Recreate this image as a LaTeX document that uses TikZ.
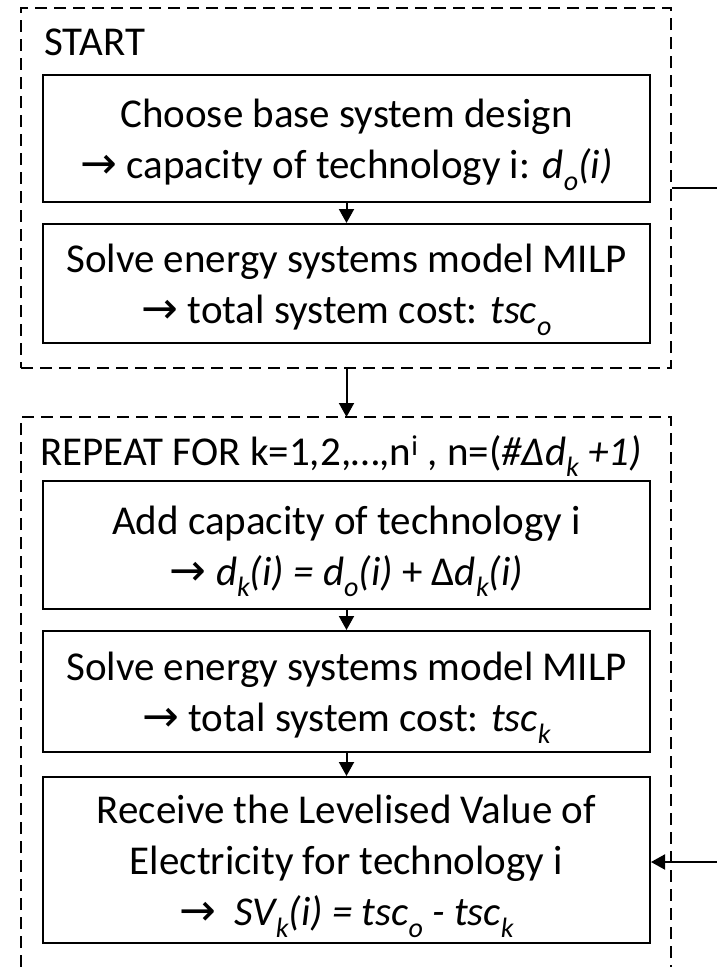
\documentclass[tikz,border=0pt]{standalone}
\usepackage{fontspec}
\setmainfont{Carlito}
\newfontfamily\arrowfont{DejaVu Sans}
\usetikzlibrary{arrows.meta}
\newcommand{\rarr}{{\arrowfont\fontsize{44}{51}\selectfont →}}
\newcommand{\lo}[1]{\raisebox{-0.28em}{\fontsize{28}{28}\selectfont #1}}
\newcommand{\tstrut}{\rule{0pt}{41pt}}
\begin{document}
\begin{tikzpicture}[x=1pt,y=-1pt,
  stepbox/.style={draw,line width=2pt,minimum width=607pt,inner sep=0pt,align=center,font=\fontsize{41}{51}\selectfont},
  frame/.style={draw,line width=1.8pt,dash pattern=on 12pt off 7pt},
  tri/.style={-{Triangle[width=15pt,length=14pt]},line width=2pt},
  plain/.style={line width=2pt},
  label/.style={inner sep=0pt,anchor=base west,font=\fontsize{41}{51}\selectfont}]
\useasboundingbox (0,0) rectangle (717,967);

% frames
\node[frame,minimum width=650pt,minimum height=360pt,inner sep=0pt] (box1) at (346,188) {};
\coordinate (f2bl) at (21,967);
\coordinate (f2tl) at (21,417);
\coordinate (f2tr) at (671,417);
\coordinate (f2br) at (671,967);
\coordinate (f2top) at (346.5,417);
\draw[frame] (f2bl) -- (f2tl) -- (f2tr) -- (f2br);

% headers
\node[label] (start) at (44,55) {START};
\node[label] (repeat) at (40,465) {REPEAT FOR k=1,2,…,n\textsuperscript{i} , n=(\textit{\#Δd\lo{k} +1)}};

% steps
\node[stepbox,minimum height=127pt] (A) at (346.5,138.5)
  {\tstrut Choose base system design\\ \rarr{} capacity of technology i: \textit{d\lo{o}(i)}};
\node[stepbox,minimum height=119pt] (B) at (346.5,283.5)
  {\tstrut Solve energy systems model MILP\\ \rarr{} total system cost: \textit{tsc\lo{o}}};
\node[stepbox,minimum height=128pt] (C) at (346.5,545)
  {\tstrut Add capacity of technology i\\ \rarr{} \textit{d\lo{k}(i) = d\lo{o}(i)} + Δ\textit{d\lo{k}(i)}};
\node[stepbox,minimum height=121pt] (D) at (346.5,691.5)
  {\tstrut Solve energy systems model MILP\\ \rarr{} total system cost: \textit{tsc\lo{k}}};
\node[stepbox,minimum height=166pt] (E) at (346.5,860)
  {\tstrut Receive the Levelised Value of\\ Electricity for technology i\\ \rarr{}\ \ \textit{SV\lo{k}(i) = tsc\lo{o} - tsc\lo{k}}};

% connectors
\draw[tri] (A) -- (B);
\draw[tri] (C) -- (D);
\draw[tri] (D) -- (E);
\draw[tri] (box1.south -| f2top) -- (f2top);
\coordinate (out1) at (717,188);
\draw[plain] (box1.east) -- (out1);
\coordinate (in2) at (717,862);
\draw[tri] (in2) -- (in2 -| E.east);
\end{tikzpicture}
\end{document}
